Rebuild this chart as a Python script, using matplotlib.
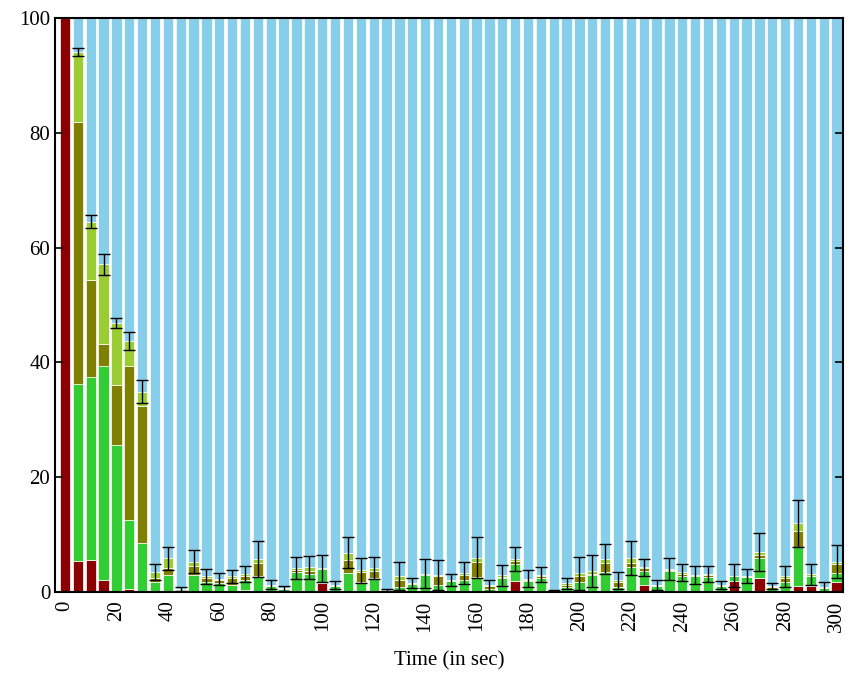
import matplotlib.pyplot as plt
import numpy as np

plt.rcParams['font.family'] = ['Liberation Serif', 'DejaVu Serif']

times = [0, 5, 10, 15, 20, 25, 30, 35, 40, 45, 50, 55, 60, 65, 70, 75, 80, 85, 90, 95,
         100, 105, 110, 115, 120, 125, 130, 135, 140, 145, 150, 155, 160, 165, 170, 175,
         180, 185, 190, 195, 200, 205, 210, 215, 220, 225, 230, 235, 240, 245, 250, 255,
         260, 265, 270, 275, 280, 285, 290, 295, 300]

red = [100, 5.4, 5.6, 2.1, 0, 0.5, 0, 0, 0, 0, 0, 0, 0, 0, 0.3, 0, 0, 0, 0, 0,
       1.6, 0, 0, 0, 0, 0, 0, 0, 0, 0, 0, 0, 0, 0, 0, 1.9,
       0, 0, 0, 0, 0, 0, 0, 0, 0, 1.2, 0, 0, 0, 0.1, 0, 0,
       1.9, 0, 2.4, 0, 0, 1.05, 1.05, 0, 1.8]
green = [0, 30.8, 31.9, 37.3, 25.6, 12.0, 8.5, 1.8, 3.0, 0.3, 3.0, 1.8, 1.5, 1.2, 1.8, 2.7, 1.0, 0.5, 3.5, 3.1,
         2.35, 1.05, 3.25, 1.8, 2.4, 0.2, 0.9, 1.4, 3.0, 1.2, 1.9, 2.0, 2.55, 0.5, 2.4, 3.0,
         1.9, 2.4, 0.1, 0.9, 1.8, 3.0, 3.4, 0.8, 4.3, 2.5, 1.05, 3.65, 2.7, 2.7, 2.55, 1.05,
         0.8, 2.55, 3.5, 0.6, 1.8, 6.85, 1.65, 0.7, 1.45]
olive = [0, 45.7, 16.9, 3.8, 10.5, 26.9, 23.9, 0.6, 1.1, 0.2, 1.5, 0.6, 0.6, 1.2, 0.7, 2.3, 0.1, 0.05, 0.3, 0.6,
         0.05, 0.05, 2.35, 1.7, 1.3, 0.1, 1.2, 0.05, 0.1, 1.5, 0.05, 1.0, 2.75, 0.55, 0.2, 0.5,
         0.1, 0.4, 0.05, 0.4, 1.0, 0.2, 1.6, 1.0, 0.7, 0.4, 0.05, 0.15, 0.4, 0.05, 0.35, 0.05,
         0.05, 0.05, 0.5, 0.2, 0.6, 2.8, 0.1, 0.05, 1.65]
lgreen = [0, 12.2, 10.1, 13.9, 10.7, 4.3, 2.5, 1.1, 1.8, 0.1, 0.8, 0.3, 0.2, 0.3, 0.4, 0.7, 0.2, 0.1, 0.4, 0.6,
          0.1, 0.1, 1.25, 0.3, 0.5, 0.05, 0.7, 0.1, 0.1, 0.3, 0.1, 0.3, 0.7, 0.15, 0.3, 0.35,
          0.3, 0.2, 0.05, 0.2, 0.45, 0.45, 0.7, 0.2, 0.9, 0.2, 0.1, 0.2, 0.3, 0.1, 0.2, 0.05,
          0.1, 0.2, 0.5, 0.2, 0.3, 1.3, 0.3, 0.1, 0.4]
err = [0, 0.7, 1.15, 1.8, 0.85, 1.6, 1.95, 1.4, 2.0, 0.35, 2.0, 1.3, 1.0, 1.2, 1.4, 3.1, 0.7, 0.4, 1.9, 2.0,
       2.4, 0.7, 2.75, 2.2, 1.9, 0.2, 2.4, 0.9, 2.5, 2.6, 1.0, 1.85, 3.5, 0.95, 1.8, 2.05,
       1.45, 1.35, 0.1, 0.95, 2.9, 2.8, 2.6, 1.4, 2.9, 1.5, 0.9, 2.0, 1.5, 1.5, 1.4, 0.7,
       1.95, 1.25, 3.3, 0.5, 1.8, 4.1, 1.8, 0.8, 2.95]

t = np.array(times)
layers = [np.array(red), np.array(green), np.array(olive), np.array(lgreen)]
colors = ['#8b0000', '#32cd32', '#808000', '#9acd32']
top = sum(layers)
rest = 100 - top

fig = plt.figure(figsize=(8.5, 6.73), dpi=100)
ax = fig.add_axes([0.0647, 0.1204, 0.9271, 0.8529])

bottom = np.zeros(len(t))
for vals, c in zip(layers, colors):
    ax.bar(t, vals, width=4, bottom=bottom, color=c, edgecolor='white', linewidth=0.5)
    bottom = bottom + vals
ax.bar(t, rest, width=4, bottom=bottom, color='#87ceeb', edgecolor='white', linewidth=0.5)

e = np.array(err)
m = e > 0
ax.errorbar(t[m], top[m], yerr=e[m], fmt='none', ecolor='black', elinewidth=1,
            capsize=4, capthick=1)

ax.set_xlim(-3.9, 302.5)
ax.set_ylim(0, 100)
ax.set_xticks(range(0, 301, 20))
ax.set_yticks(range(0, 101, 20))
ax.tick_params(axis='x', labelsize=15, rotation=90, direction='in', length=0, pad=6)
ax.tick_params(axis='y', labelsize=15, direction='in', length=6, right=True, width=1.2)
ax.set_xlabel('Time (in sec)', fontsize=15, labelpad=14)
for s in ax.spines.values():
    s.set_linewidth(1.5)
    s.set_zorder(5)

plt.savefig('out.png', dpi=100)
